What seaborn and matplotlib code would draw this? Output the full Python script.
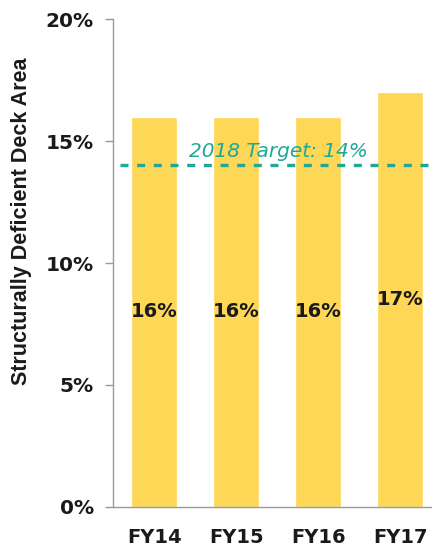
import numpy as np
import pandas as pd
import matplotlib as mpl
mpl.use("Agg")
import matplotlib.pyplot as plt
import seaborn as sns

years = ["FY14", "FY15", "FY16", "FY17"]
deficient_pct = [16, 16, 16, 17]
target_pct = 14
target_label = "2018 Target: 14%"
y_ticks = [0, 5, 10, 15, 20]

bar_color = "#FDD755"
teal = "#1FA898"
ink = "#1a1a1a"

sns.set_theme(style="white")
plt.rcParams["font.family"] = ["DejaVu Sans"]

df = pd.DataFrame({"year": years, "pct": deficient_pct})

fig = plt.figure(figsize=(4.32, 5.48), dpi=100)
ax = fig.add_axes([0.262, 0.075, 0.738, 0.89])

sns.barplot(data=df, x="year", y="pct", color=bar_color, width=0.56,
            saturation=1, ax=ax)

# value labels in the middle of each bar
for i, v in enumerate(deficient_pct):
    ax.text(i, v / 2, f"{v}%", ha="center", va="center",
            fontsize=14, fontweight="bold", color=ink)

ax.axhline(target_pct, xmin=0.02, color=teal, lw=2.4, ls=(0, (2.4, 2.6)),
           zorder=3)
ax.text(1.52, target_pct + 0.2, target_label, ha="center", va="bottom",
        fontsize=14.5, style="italic", color=teal)

ax.set_ylim(0, 20)
ax.set_xlim(-0.5, 3.39)
ax.set_yticks(y_ticks)
ax.set_yticklabels([f"{t}%" for t in y_ticks], fontsize=14.5,
                   fontweight="bold", color=ink)
ax.set_xticklabels(years, fontsize=14, fontweight="bold", color=ink)
ax.set_xlabel("")
ax.set_ylabel("Structurally Deficient Deck Area", fontsize=15.5,
              fontweight="bold", color=ink,
              family=["Liberation Sans", "DejaVu Sans"])
ax.yaxis.set_label_coords(-0.255, 0.585)

ax.tick_params(axis="y", left=True, length=6, width=1, color="#999999", pad=8)
ax.tick_params(axis="x", bottom=False, pad=9)
for side in ["top", "right"]:
    ax.spines[side].set_visible(False)
for side in ["left", "bottom"]:
    ax.spines[side].set_color("#999999")
    ax.spines[side].set_linewidth(1)

fig.savefig("out.png", dpi=100)
